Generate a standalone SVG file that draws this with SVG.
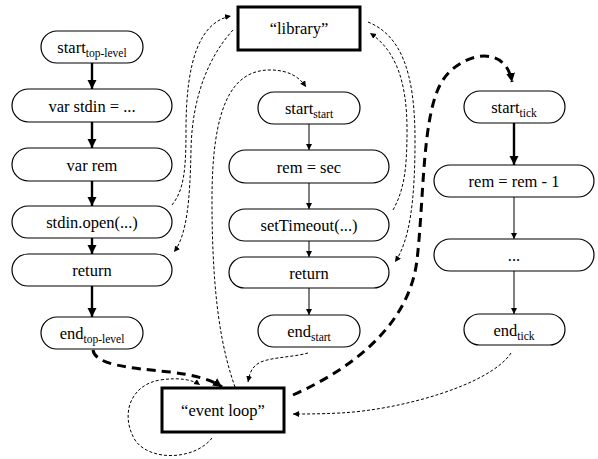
<svg xmlns="http://www.w3.org/2000/svg" width="598" height="459" viewBox="0 0 598 459">
<defs>
<marker id="ah" markerUnits="userSpaceOnUse" markerWidth="8" markerHeight="8" refX="6" refY="3" orient="auto">
<path d="M0,0 L6,3 L0,6 z" fill="#000"/>
</marker>
<marker id="ahb" markerUnits="userSpaceOnUse" markerWidth="12" markerHeight="12" refX="9" refY="4.5" orient="auto">
<path d="M0,0 L9,4.5 L0,9 z" fill="#000"/>
</marker>
</defs>
<style>
.pill{fill:#fff;stroke:#000;stroke-width:1.2}
.box{fill:#fff;stroke:#000;stroke-width:3}
.sub{font-size:11.5px}
.e{fill:none;stroke:#000}
.thin{stroke-width:1;marker-end:url(#ah)}
.bold{stroke-width:2.4;marker-end:url(#ahb)}
.d{fill:none;stroke:#000;stroke-width:1;stroke-dasharray:3 2;marker-end:url(#ah)}
.db{fill:none;stroke:#000;stroke-width:3;stroke-dasharray:9 6;marker-end:url(#ahb)}
</style>

<g id="edges">
<path class="e bold" d="M92,63 V89"/>
<path class="e bold" d="M92,122 V148"/>
<path class="e bold" d="M92,181 V206"/>
<path class="e bold" d="M92,238 V254"/>
<path class="e bold" d="M92,286 V317"/>
<path class="e thin" d="M309,124 V150"/>
<path class="e thin" d="M309,183 V209"/>
<path class="e thin" d="M309,241 V257"/>
<path class="e thin" d="M309,288 V315"/>
<path class="e bold" d="M514,123 V165"/>
<path class="e thin" d="M514,197 V239"/>
<path class="e thin" d="M514,271 V314"/>
<path class="d" d="M172,205 C184,190 186,170 186,130 C186,60 200,22 231,16"/>
<path class="d" d="M233,30 C210,55 192,95 191,150 C190,200 187,235 174,252"/>
<path class="d" d="M235,387 C222,350 212,300 212,200 C212,110 230,70 270,70 C290,70 300,78 306,87"/>
<path class="d" d="M393,210 C404,190 407,170 407,130 C407,80 395,50 370,33"/>
<path class="d" d="M368,22 C400,35 415,70 415,140 C415,200 410,240 395,262"/>
<path class="db" d="M293,395 C360,365 410,320 417,260 C424,200 422,120 440,85 C455,55 505,40 512,82"/>
<path class="db" d="M93,350 C95,365 130,368 170,372 C195,375 212,380 222,387"/>
<path class="d" d="M212,438 C195,460 150,462 135,440 C120,415 130,385 160,380 C180,377 193,380 200,385"/>
<path class="d" d="M308,353 C290,358 265,357 256,365 C250,370 249,377 248,382"/>
<path class="d" d="M511,353 C490,385 400,410 340,413 C320,414 305,414 293,414"/>
</g>

<g font-family="Liberation Serif, serif" font-size="16.5" text-anchor="middle" fill="#000">
<g id="n-start-top"><rect class="pill" x="41" y="31" width="102" height="32" rx="16"/><text x="92" y="53">start<tspan class="sub" dy="4">top-level</tspan></text></g>
<g id="n-var-stdin"><rect class="pill" x="12" y="89" width="160" height="33" rx="16.5"/><text x="92" y="111.5">var stdin = ...</text></g>
<g id="n-var-rem"><rect class="pill" x="12" y="148" width="160" height="33" rx="16.5"/><text x="92" y="170.5">var rem</text></g>
<g id="n-stdin-open"><rect class="pill" x="12" y="206" width="160" height="32" rx="16"/><text x="92" y="228">stdin.open(...)</text></g>
<g id="n-return-top"><rect class="pill" x="12" y="254" width="160" height="32" rx="16"/><text x="92" y="276">return</text></g>
<g id="n-end-top"><rect class="pill" x="41" y="317" width="102" height="32" rx="16"/><text x="92" y="339">end<tspan class="sub" dy="4">top-level</tspan></text></g>

<g id="n-library"><rect class="box" x="238" y="7" width="122" height="43"/><text x="299" y="34">“library”</text></g>

<g id="n-start-start"><rect class="pill" x="258" y="92" width="102" height="32" rx="16"/><text x="309" y="114">start<tspan class="sub" dy="4">start</tspan></text></g>
<g id="n-rem-sec"><rect class="pill" x="229" y="150" width="160" height="33" rx="16.5"/><text x="309" y="172.5">rem = sec</text></g>
<g id="n-settimeout"><rect class="pill" x="229" y="209" width="160" height="32" rx="16"/><text x="309" y="231">setTimeout(...)</text></g>
<g id="n-return-start"><rect class="pill" x="229" y="257" width="160" height="31" rx="15.5"/><text x="309" y="278.5">return</text></g>
<g id="n-end-start"><rect class="pill" x="258" y="315" width="102" height="32" rx="16"/><text x="309" y="337">end<tspan class="sub" dy="4">start</tspan></text></g>

<g id="n-start-tick"><rect class="pill" x="464" y="91" width="101" height="32" rx="16"/><text x="514" y="113">start<tspan class="sub" dy="4">tick</tspan></text></g>
<g id="n-rem-dec"><rect class="pill" x="434" y="165" width="160" height="32" rx="16"/><text x="514" y="187">rem = rem - 1</text></g>
<g id="n-dots"><rect class="pill" x="434" y="239" width="160" height="32" rx="16"/><text x="514" y="261">...</text></g>
<g id="n-end-tick"><rect class="pill" x="464" y="314" width="101" height="31" rx="15.5"/><text x="514" y="335.5">end<tspan class="sub" dy="4">tick</tspan></text></g>

<g id="n-event-loop"><rect class="box" x="162" y="388" width="122" height="44"/><text x="223" y="416">“event loop”</text></g>
</g>
</svg>
